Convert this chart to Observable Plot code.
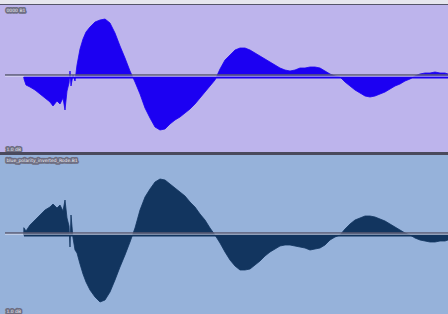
<!DOCTYPE html>
<html>
<head>
<meta charset="utf-8">
<script src="https://cdn.jsdelivr.net/npm/d3@7"></script>
<script src="https://cdn.jsdelivr.net/npm/@observablehq/plot@0.6"></script>
<style>
  html, body { margin: 0; padding: 0; background: #e6e6ee; width: 448px; height: 314px; overflow: hidden; }
  #top { position: absolute; left: 0; top: 4px; border-top: 1px solid #55556a; }
  #bottom { position: absolute; left: 0; top: 152px; border-top: 3px solid #4a4a5c; }
  svg { display: block; }
</style>
</head>
<body>
<div id="top"></div>
<div id="bottom"></div>
<script>
// time in samples (shared grid)
const time = [19,21,25,30,35,40,45,48,52,55,58,60,62,64,65,66,68,70,72,75,78,81,85,
  90,95,100,105,110,115,120,125,130,135,140,145,150,155,160,165,170,175,180,185,190,195,200,
  205,210,215,220,225,230,235,240,245,250,255,260,265,270,275,280,285,290,295,300,305,310,315,
  320,325,330,335,340,345,350,355,360,365,370,375,380,385,390,395,400,405,410,415,420,425,430,
  435,440,443];

// original track amplitude
const original = [-2,-8,-10,-13,-17,-21,-25,-29,-24,-27,-21,-33,-14,-6,6,-9,2,-4,12,28,38,45,50,
  55,57,58,54,44,31,19,6,-5,-17,-31,-41,-50,-53,-52,-47,-43,-40,-36,-32,-27,-21,
  -15,-9,-3,8,17,22,27,29,29,27,24,21,18,15,12,9,7,6,7,9,9,10,
  10,9,6,3,1,0,-5,-9,-13,-16,-19,-20,-19,-17,-15,-12,-9,-7,-4,-2,1,3,4,
  4,5,4,4,3];

// polarity-inverted track amplitude
const inverted = [7,4,10,15,20,25,28,31,27,30,24,35,17,9,-12,20,-3,-15,-18,-29,-39,-47,-55,
  -62,-67,-65,-57,-45,-32,-20,-7,7,25,38,46,53,56,55,51,47,43,39,33,28,21,
  15,7,0,-8,-17,-25,-31,-35,-35,-34,-30,-26,-21,-17,-14,-11,-10,-10,-11,-12,-13,-15,
  -14,-13,-10,-5,-2,0,6,11,15,17,19,19,18,16,14,11,8,5,2,0,-3,-5,-6,
  -7,-7,-6,-6,-5];

const labels = ["0000 B1", "1.0 dB", "blue_polarity_inverted_Rode.B1", "1.0 dB"];

function panel(values, opts) {
  const data = time.map((t, i) => ({t, v: values[i]}));
  const t0 = d3.min(time), t1 = d3.max(time);
  return Plot.plot({
    width: 448,
    height: opts.height,
    marginLeft: 5, marginRight: 0, marginTop: 0, marginBottom: 0,
    style: {background: opts.bg, overflow: "visible"},
    x: {domain: [0, 443], axis: null},
    y: {domain: opts.domain, axis: null},
    marks: [
      Plot.areaY(data, {x: "t", y1: 0, y2: "v", fill: opts.wave, stroke: opts.wave, strokeWidth: 0.8, curve: "linear"}),
      Plot.ruleY([{a: 0}], {y: "a", x1: t0, x2: t1, stroke: opts.wave, strokeWidth: 2}),
      Plot.ruleY([2.6], {stroke: "#5a5a72", strokeWidth: 1.5}),
      Plot.ruleY([1.2], {stroke: "#e4e4f2", strokeWidth: 0.8, strokeOpacity: 0.8}),
      Plot.text([opts.topLabel], {frameAnchor: "top-left", dx: 1, dy: 3, fontSize: 4.5, fill: "#eeeef6",
        stroke: "#6e6e82", strokeWidth: 3.5, fontFamily: "DejaVu Sans", text: d => d}),
      Plot.text([opts.bottomLabel], {frameAnchor: "bottom-left", dx: 1, dy: -2, fontSize: 4.5, fill: "#eeeef6",
        stroke: "#6e6e82", strokeWidth: 3.5, fontFamily: "DejaVu Sans", text: d => d})
    ]
  });
}

document.getElementById("top").append(panel(original, {
  height: 147, domain: [-75, 72], bg: "#bdb4ec", wave: "#1c00f2",
  topLabel: labels[0], bottomLabel: labels[1]
}));
document.getElementById("bottom").append(panel(inverted, {
  height: 159, domain: [-79, 80], bg: "#96b2da", wave: "#12355f",
  topLabel: labels[2], bottomLabel: labels[3]
}));
</script>
</body>
</html>
